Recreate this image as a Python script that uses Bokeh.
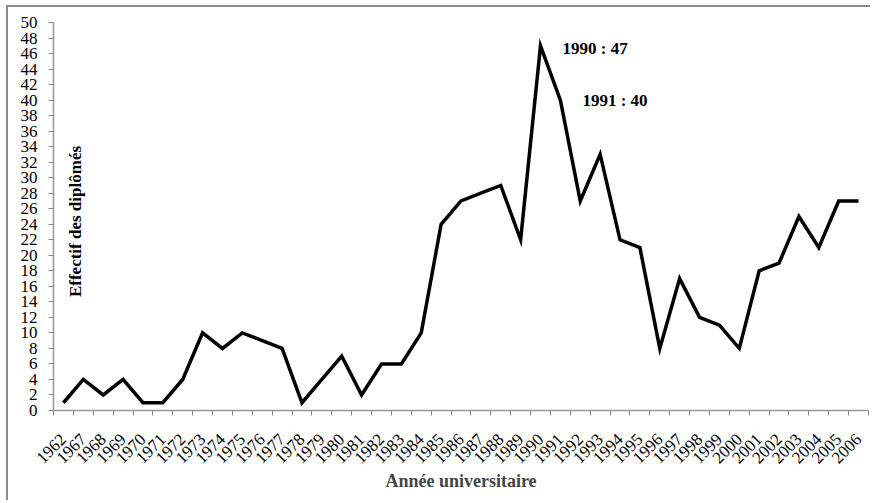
import math
from bokeh.plotting import figure
from bokeh.models import FixedTicker, Range1d, Label
from bokeh.core.properties import value
from bokeh.embed import file_html
from bokeh.resources import INLINE

years = ["1962", "1967", "1968", "1969", "1970", "1971", "1972", "1973", "1974", "1975",
         "1976", "1977", "1978", "1979", "1980", "1981", "1982", "1983", "1984", "1985",
         "1986", "1987", "1988", "1989", "1990", "1991", "1992", "1993", "1994", "1995",
         "1996", "1997", "1998", "1999", "2000", "2001", "2002", "2003", "2004", "2005", "2006"]
effectifs = [1, 4, 2, 4, 1, 1, 4, 10, 8, 10,
             9, 8, 1, 4, 7, 2, 6, 6, 10, 24,
             27, 28, 29, 22, 47, 40, 27, 33, 22, 21,
             8, 17, 12, 11, 8, 18, 19, 25, 21, 27, 27]
y_ticks = list(range(0, 51, 2))
annotated_years = ["1990", "1991"]

FONT = "Liberation Serif"

xs = [i + 0.5 for i in range(len(years))]

p = figure(width=864, height=495, output_backend="svg", toolbar_location=None,
           x_range=Range1d(0, len(years)), y_range=Range1d(0, 50),
           min_border_left=45, min_border_right=4, min_border_top=15, min_border_bottom=92)
p.styles = {"border-left": "2px solid #8a8a8a", "border-top": "2px solid #8a8a8a",
            "margin-left": "6px", "margin-top": "5px"}
p.outline_line_color = None
p.xgrid.visible = False
p.ygrid.visible = False
p.background_fill_color = "white"
p.border_fill_color = "white"

p.line(xs, effectifs, line_color="black", line_width=3.5, line_join="miter")

ann_x = [xs[years.index(a)] for a in annotated_years]
ann_y = [effectifs[years.index(a)] for a in annotated_years]
ann_t = [f"{a} : {effectifs[years.index(a)]}" for a in annotated_years]
p.text(x=ann_x, y=ann_y, text=ann_t, x_offset=22, y_offset=[3, 0],
       text_font=value(FONT), text_font_style="bold", text_font_size="17px",
       text_baseline="middle", text_align="left", text_color="black")

# x axis
xa = p.xaxis[0]
xa.ticker = FixedTicker(ticks=xs, minor_ticks=list(range(len(years) + 1)))
xa.major_label_overrides = {x: y for x, y in zip(xs, years)}
xa.major_tick_line_color = None
xa.minor_tick_line_color = "#888888"
xa.minor_tick_out = 5
xa.minor_tick_in = 0
xa.axis_line_color = "#999999"
xa.axis_line_width = 1.5
xa.major_label_orientation = math.pi / 4
xa.major_label_text_font = FONT
xa.major_label_text_font_size = "17px"
xa.major_label_text_color = "black"
xa.major_label_standoff = 20
xa.axis_label = "Année universitaire"
xa.axis_label_text_font = FONT
xa.axis_label_text_font_style = "bold"
xa.axis_label_text_font_size = "18px"
xa.axis_label_standoff = 0

# y axis
ya = p.yaxis[0]
ya.ticker = FixedTicker(ticks=y_ticks)
ya.minor_tick_line_color = None
ya.major_tick_line_color = "#888888"
ya.major_tick_out = 5
ya.major_tick_in = 0
ya.axis_line_color = "#999999"
ya.axis_line_width = 1.5
ya.major_label_text_font = FONT
ya.major_label_text_font_size = "17px"
ya.major_label_text_color = "black"
ya.major_label_standoff = 11

p.add_layout(Label(x=22, y=189, x_units="screen", y_units="screen",
                   text="Effectif des diplômés", angle=math.pi / 2,
                   text_font=FONT, text_font_style="bold", text_font_size="17px",
                   text_align="center", text_baseline="middle", text_color="black"))

open("out.html", "w").write(file_html(p, INLINE))
